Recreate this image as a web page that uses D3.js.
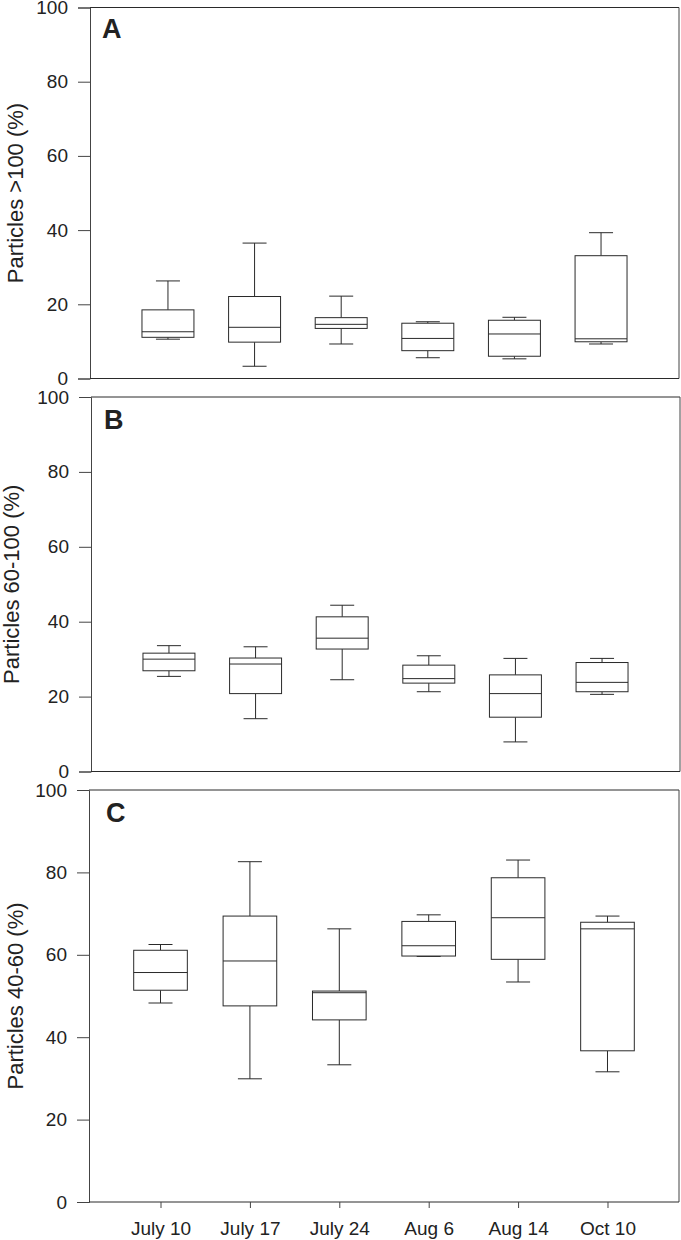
<!DOCTYPE html>
<html>
<head>
<meta charset="utf-8">
<script src="https://cdn.jsdelivr.net/npm/d3@7"></script>
<style>
  html, body { margin: 0; padding: 0; background: #fff; }
  svg { display: block; }
  text { font-family: "Liberation Sans", Arial, sans-serif; fill: #222; }
</style>
</head>
<body>
<svg id="chart" width="681" height="1240"></svg>
<script>
// ---- data ----
const categories = ["July 10", "July 17", "July 24", "Aug 6", "Aug 14", "Oct 10"];
const yTicks = [0, 20, 40, 60, 80, 100];
const panelLetters = ["A", "B", "C"];
const yTitles = ["Particles  >100 (%)", "Particles 60-100 (%)", "Particles 40-60 (%)"];
// each entry: [lower whisker, Q1, median, Q3, upper whisker]
const boxesA = [
  [10.6, 11.1, 12.6, 18.5, 26.3],
  [3.3, 9.8, 13.8, 22.1, 36.5],
  [9.3, 13.5, 14.6, 16.4, 22.2],
  [5.6, 7.5, 10.8, 14.9, 15.3],
  [5.3, 6.0, 12.0, 15.7, 16.5],
  [9.3, 9.9, 10.7, 33.1, 39.3]
];
const boxesB = [
  [25.4, 26.9, 30.0, 31.6, 33.6],
  [14.1, 20.8, 28.7, 30.3, 33.3],
  [24.5, 32.7, 35.6, 41.3, 44.4],
  [21.3, 23.6, 24.8, 28.4, 30.9],
  [7.9, 14.5, 20.8, 25.8, 30.2],
  [20.6, 21.3, 23.8, 29.1, 30.2]
];
const boxesC = [
  [48.3, 51.4, 55.7, 61.1, 62.5],
  [29.9, 47.6, 58.5, 69.4, 82.6],
  [33.3, 44.2, 50.8, 51.2, 66.3],
  [59.6, 59.7, 62.2, 68.1, 69.7],
  [53.4, 58.9, 69.0, 78.7, 83.0],
  [31.6, 36.7, 66.3, 67.9, 69.4]
];
const panelData = [boxesA, boxesB, boxesC];

// ---- layout ----
const layouts = [
  { top: 7.5, bottom: 378.5, left: 90, right: 679, pad: 0.9, showX: false, titleX: 23, letterX: 102, letterY: 38 },
  { top: 397, bottom: 771.5, left: 91, right: 680, pad: 0.9, showX: false, titleX: 19, letterX: 104, letterY: 429 },
  { top: 790, bottom: 1202, left: 89, right: 679, pad: 0.8, showX: true, titleX: 23, letterX: 106, letterY: 822 }
];
const stroke = "#2a2a2a";
const axisStroke = "#444";
const font = "'Liberation Sans', Arial, sans-serif";

const svg = d3.select("#chart");

layouts.forEach((L, pi) => {
  const data = panelData[pi];
  const x = d3.scalePoint().domain(categories).range([L.left, L.right]).padding(L.pad);
  const y = d3.scaleLinear().domain([0, 100]).range([L.bottom, L.top]);
  const g = svg.append("g");

  // frame (top & right)
  g.append("line").attr("x1", L.left).attr("x2", L.right).attr("y1", L.top).attr("y2", L.top)
    .attr("stroke", stroke).attr("stroke-width", 1);
  g.append("line").attr("x1", L.right).attr("x2", L.right).attr("y1", L.top).attr("y2", L.bottom)
    .attr("stroke", axisStroke).attr("stroke-width", 1);

  // y axis
  const yAxis = d3.axisLeft(y).tickValues(yTicks).tickSize(12).tickPadding(10).tickFormat(d3.format("d"));
  const ya = g.append("g").attr("transform", `translate(${L.left},0)`).call(yAxis);
  ya.select(".domain").attr("stroke", axisStroke);
  ya.selectAll(".tick line").attr("stroke", axisStroke);
  ya.selectAll(".tick text").attr("font-size", 19).attr("fill", "#222").attr("font-family", font);

  // x axis
  const xAxis = d3.axisBottom(x).tickSize(L.showX ? 6 : 0).tickPadding(14);
  const xa = g.append("g").attr("transform", `translate(0,${L.bottom})`).call(xAxis);
  xa.select(".domain").attr("d", `M${L.left},0H${L.right}`).attr("stroke", stroke);
  xa.selectAll(".tick line").attr("stroke", axisStroke);
  if (L.showX) {
    xa.selectAll(".tick text").attr("font-size", 19).attr("fill", "#222").attr("font-family", font);
  } else {
    xa.selectAll(".tick text").remove();
    xa.selectAll(".tick line").remove();
  }

  // y title
  g.append("text")
    .attr("transform", `translate(${L.titleX},${(L.top + L.bottom) / 2}) rotate(-90)`)
    .attr("text-anchor", "middle")
    .attr("font-size", 22)
    .text(yTitles[pi]);

  // panel letter
  g.append("text").attr("x", L.letterX).attr("y", L.letterY)
    .attr("font-size", 27).attr("font-weight", "bold")
    .text(panelLetters[pi]);

  // boxes
  const step = x.step();
  const bw = step * 0.6;
  const cw = 24;
  const boxes = g.selectAll("g.box").data(data).join("g").attr("class", "box")
    .attr("transform", (d, i) => `translate(${x(categories[i])},0)`);
  // whiskers
  boxes.append("line").attr("x1", 0).attr("x2", 0)
    .attr("y1", d => y(d[3])).attr("y2", d => y(d[4])).attr("stroke", stroke);
  boxes.append("line").attr("x1", 0).attr("x2", 0)
    .attr("y1", d => y(d[1])).attr("y2", d => y(d[0])).attr("stroke", stroke);
  // caps
  boxes.append("line").attr("x1", -cw / 2).attr("x2", cw / 2)
    .attr("y1", d => y(d[4])).attr("y2", d => y(d[4])).attr("stroke", stroke);
  boxes.append("line").attr("x1", -cw / 2).attr("x2", cw / 2)
    .attr("y1", d => y(d[0])).attr("y2", d => y(d[0])).attr("stroke", stroke);
  // box
  boxes.append("rect").attr("x", -bw / 2).attr("width", bw)
    .attr("y", d => y(d[3])).attr("height", d => y(d[1]) - y(d[3]))
    .attr("fill", "#fff").attr("stroke", stroke).attr("stroke-width", 1);
  // median
  boxes.append("line").attr("x1", -bw / 2).attr("x2", bw / 2)
    .attr("y1", d => y(d[2])).attr("y2", d => y(d[2])).attr("stroke", stroke);
});
</script>
</body>
</html>
